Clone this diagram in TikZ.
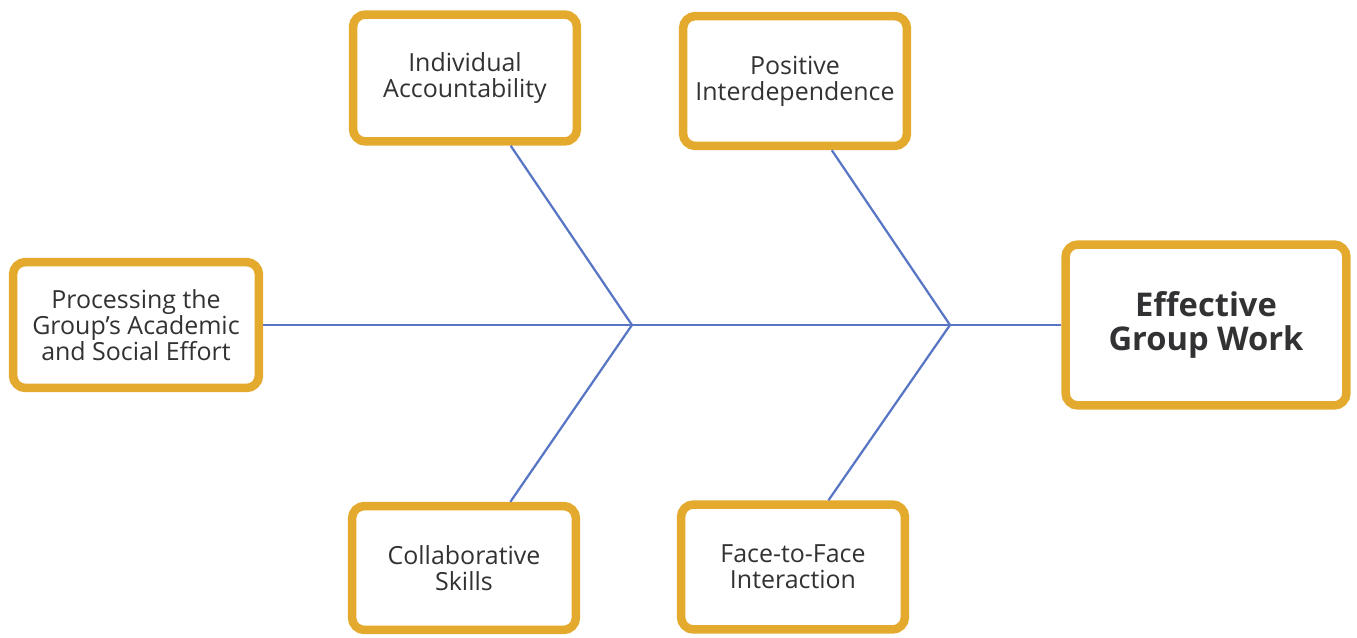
\documentclass[tikz,border=0pt]{standalone}
\usepackage{fontspec}
\setmainfont{Open Sans}
\usetikzlibrary{positioning}
\definecolor{gold}{RGB}{228,170,45}
\definecolor{bone}{RGB}{88,118,196}
\definecolor{ink}{RGB}{50,50,52}
\tikzset{
  factor/.style={draw=gold,line width=1.7mm,rounded corners=2.5mm,fill=white,
    text=ink,align=center,font=\fontsize{14.2}{14.8}\selectfont,
    minimum width=4.48cm,minimum height=2.54cm},
  effect/.style={factor,font=\fontsize{18.6}{19.8}\selectfont\bfseries,
    minimum width=5.62cm,minimum height=3.22cm},
  branch/.style={draw=bone,line width=0.45mm},
}
\begin{document}
\begin{tikzpicture}[x=0.02cm,y=-0.02cm]
  \useasboundingbox (0,0) rectangle (1357,637);
  % boxes
  \node[factor] (acc) at (465,78) {Individual\\Accountability};
  \node[factor,minimum height=2.6cm] (pos) at (795,81) {Positive\\Interdependence};
  \node[factor,minimum width=4.92cm,minimum height=2.52cm] (proc) at (136,325)
    {Processing the\\Group’s Academic\\and Social Effort};
  \node[effect] (eff) at (1206,325) {Effective\\Group Work};
  \node[factor,minimum height=2.48cm] (coll) at (464,568) {Collaborative\\Skills};
  \node[factor,minimum height=2.5cm] (face) at (793,567) {Face-to-Face\\Interaction};
  % spine and bones
  \coordinate (j1) at (632,325);
  \coordinate (j2) at (950,325);
  \draw[branch] (proc.east) -- (j1) -- (j2) -- (eff.west);
  \draw[branch] (acc.-56) -- (j1) -- (coll.55);
  \draw[branch] (pos.-62) -- (j2) -- (face.62);
\end{tikzpicture}
\end{document}
